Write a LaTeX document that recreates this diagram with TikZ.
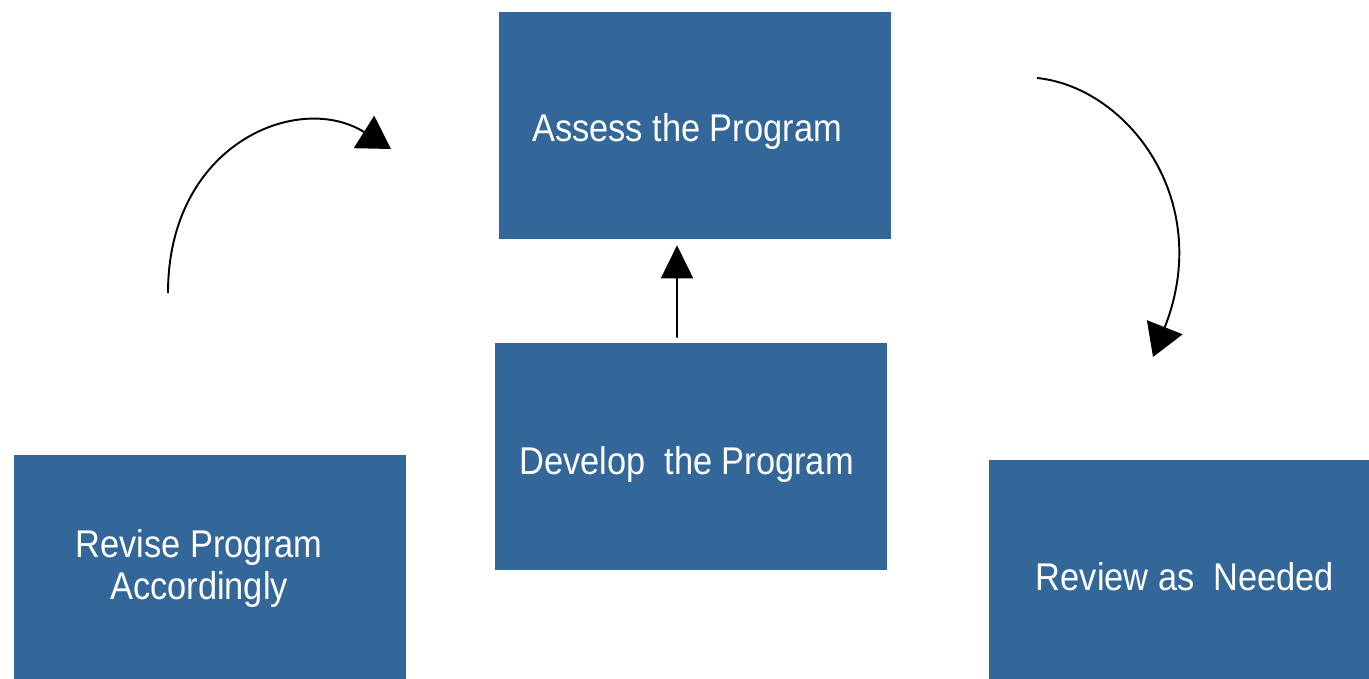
\documentclass[tikz,border=0pt]{standalone}
\usepackage{fontspec}
\setmainfont[FakeStretch=0.89]{Liberation Sans}
\usetikzlibrary{arrows.meta}
\definecolor{boxblue}{RGB}{51,102,153}
\newcommand{\nudged}[3]{\raisebox{#2}[\height][\depth]{\hspace*{#1}#3}}

\begin{document}
\begin{tikzpicture}[x=0.02cm,y=-0.02cm,
    stage/.style={fill=boxblue,draw=none,text=white,align=center,
        minimum width=7.84cm,minimum height=4.54cm,inner sep=0pt,
        font=\fontsize{22}{24}\selectfont},
    arr/.style={line width=1.1pt,-{Triangle[length=0.64cm,width=0.76cm]}}]
            \clip (0,0) rectangle (1369,679);
            \fill[white] (0,0) rectangle (1369,679);
            \node[stage] (assess) at (695,125.5) {\nudged{-0.32cm}{-0.12cm}{Assess the Program}};
            \node[stage] (develop) at (691,456.5) {\nudged{-0.18cm}{-0.16cm}{Develop\ \ the Program}};
            \node[stage] (revise) at (210,568.5) {\hspace*{-0.44cm}Revise Program\\\hspace*{-0.44cm}Accordingly};
            \node[stage] (review) at (1185,573.5) {\nudged{0cm}{-0.06cm}{Review as\ \ Needed}};
            \coordinate (revisetail) at (168,293);
            \coordinate (assesstip) at (391,149);
            \coordinate (assesstail) at (1037,78);
            \coordinate (reviewtip) at (1153,357);
            \draw[arr] (revisetail) .. controls (168,143) and (299,91) .. (assesstip);
            \draw[arr] (assesstail) .. controls (1127,87) and (1215,200) .. (reviewtip);
            \draw[line width=1.1pt,-{Triangle[length=0.66cm,width=0.64cm]}] ([xshift=-0.28cm,yshift=0.1cm]develop.north) -- ([xshift=-0.36cm,yshift=-0.12cm]assess.south);
        \end{tikzpicture}
\end{document}
